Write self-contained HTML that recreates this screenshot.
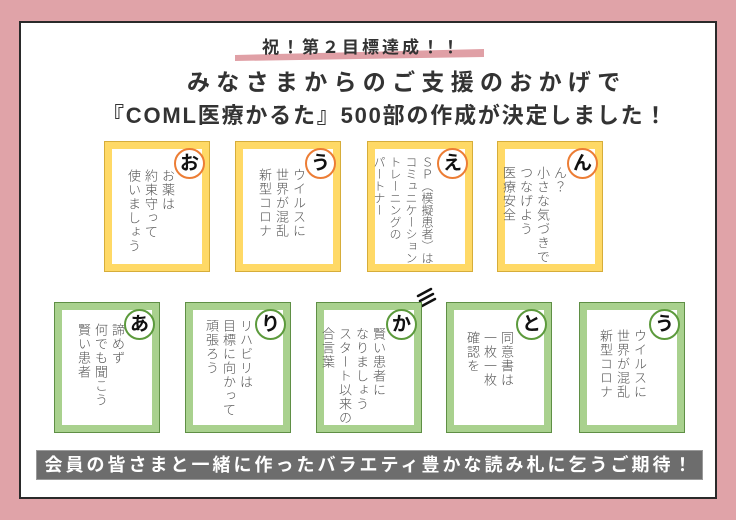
<!DOCTYPE html>
<html><head><meta charset="utf-8"><style>
*{margin:0;padding:0;box-sizing:border-box}
body{width:736px;height:520px;background:#e0a3a8;position:relative;overflow:hidden;font-family:"Liberation Sans","Noto Sans CJK JP",sans-serif}
.panel{position:absolute;left:19px;top:21px;width:698px;height:478px;background:#fff;border:2px solid #2a2a2a}
.t{position:absolute;white-space:nowrap;font-weight:bold;color:#333}
.card{position:absolute;width:106px;height:131px}
.y{background:#ffd966;border:1px solid #d6ad3a}
.g{background:#a9d18e;border:1px solid #5f8f45}
.card .in{position:absolute;left:7px;top:7px;right:7px;bottom:7px;background:#fff}
.card .c{position:absolute;right:4px;top:6px;width:31px;height:31px;border-radius:50%;background:#fff;font-weight:bold;font-size:19px;line-height:27px;text-align:center;color:#111}
.y .c{border:2px solid #ec7d35}
.g .c{border:2px solid #5c9a3c}
.card .v{position:absolute;writing-mode:vertical-rl;font-size:13px;line-height:17px;letter-spacing:1px;color:#555;white-space:nowrap;font-weight:300}
.banner{position:absolute;left:36px;top:450px;width:667px;height:30px;background:#6d6d6d;border:1px solid #9a9a9a;color:#fff;font-weight:bold;font-size:18px;line-height:28px;text-align:center;letter-spacing:3px}
</style></head><body>
<div class="panel"></div>
<svg style="position:absolute;left:0;top:0" width="736" height="520">
<path d="M235 55 L484 49 L484 57 L235 61 Z" fill="#e0a0a6"/>
<g stroke="#111" stroke-width="2.5" stroke-linecap="round">
<line x1="418" y1="296" x2="431" y2="289"/><line x1="420" y1="301" x2="433" y2="294"/><line x1="422" y1="306" x2="435" y2="299"/>
</g>
</svg>
<div class="t" style="left:262px;top:33px;font-size:17px;letter-spacing:3px">祝！第２目標達成！！</div>
<div class="t" style="left:187px;top:63px;font-size:23px;letter-spacing:6.3px">みなさまからのご支援のおかげで</div>
<div class="t" style="left:102px;top:98px;font-size:22px;letter-spacing:1.8px">『COML医療かるた』500部の作成が決定しました！</div>

<div class="card y" style="left:104px;top:141px"><div class="in"></div><div class="c">お</div><div class="v" style="right:33px;top:27px">お薬は<br>約束守って<br>使いましょう</div></div>
<div class="card y" style="left:235px;top:141px"><div class="in"></div><div class="c">う</div><div class="v" style="right:33px;top:26px">ウイルスに<br>世界が混乱<br>新型コロナ</div></div>
<div class="card y" style="left:367px;top:141px"><div class="in"></div><div class="c">え</div><div class="v" style="right:37px;top:14px;letter-spacing:0;font-size:12px;line-height:16px">ＳＰ（模擬患者）は<br>コミュニケーション<br>トレーニングの<br>パートナー</div></div>
<div class="card y" style="left:497px;top:141px"><div class="in"></div><div class="c">ん</div><div class="v" style="right:34px;top:24px">ん？<br>小さな気づきで<br>つなげよう<br>医療安全</div></div>

<div class="card g" style="left:54px;top:302px"><div class="in"></div><div class="c">あ</div><div class="v" style="right:33px;top:20px">諦めず<br>何でも聞こう<br>賢い患者</div></div>
<div class="card g" style="left:185px;top:302px"><div class="in"></div><div class="c">り</div><div class="v" style="right:36px;top:16px">リハビリは<br>目標に向かって<br>頑張ろう</div></div>
<div class="card g" style="left:316px;top:302px"><div class="in"></div><div class="c">か</div><div class="v" style="right:34px;top:24px">賢い患者に<br>なりましょう<br>スタート以来の<br>合言葉</div></div>
<div class="card g" style="left:446px;top:302px"><div class="in"></div><div class="c">と</div><div class="v" style="right:36px;top:28px">同意書は<br>一枚一枚<br>確認を</div></div>
<div class="card g" style="left:579px;top:302px"><div class="in"></div><div class="c">う</div><div class="v" style="right:36px;top:26px">ウイルスに<br>世界が混乱<br>新型コロナ</div></div>

<div class="banner">会員の皆さまと一緒に作ったバラエティ豊かな読み札に乞うご期待！</div>
</body></html>
